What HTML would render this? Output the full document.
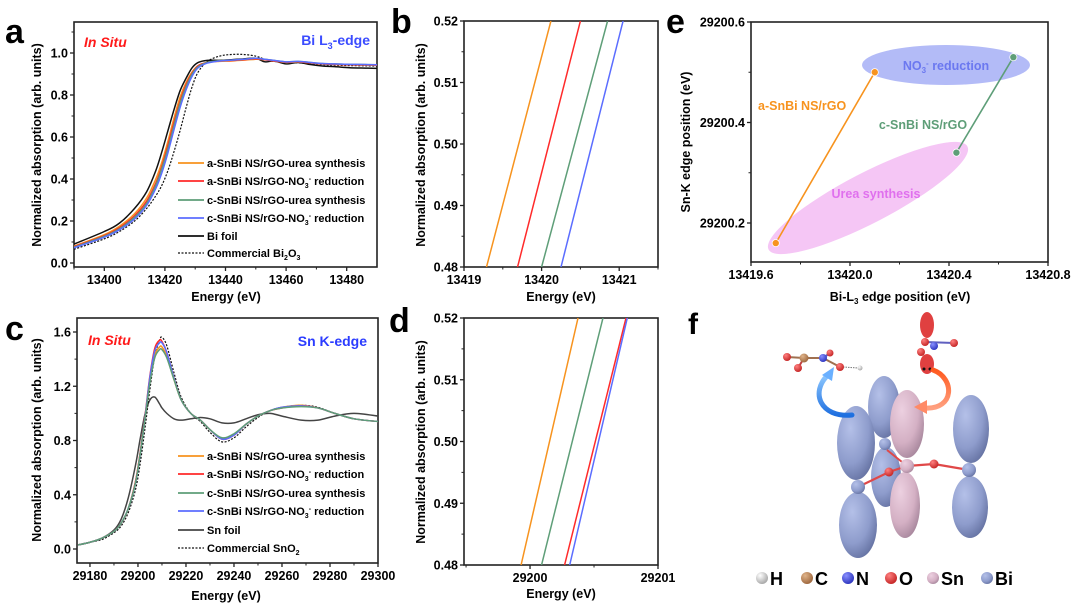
<!DOCTYPE html>
<html><head><meta charset="utf-8">
<style>
html,body{margin:0;padding:0;background:#fff;}
svg{display:block;font-family:"Liberation Sans",Arial,sans-serif;}
text{font-weight:bold;}
</style></head>
<body>
<svg id="fig" width="1080" height="612" viewBox="0 0 1080 612" xmlns="http://www.w3.org/2000/svg">
<defs>
<radialGradient id="gBi" cx="35%" cy="30%" r="80%"><stop offset="0" stop-color="#b4c0e8"/><stop offset="0.6" stop-color="#8e9ccc"/><stop offset="1" stop-color="#5f6c9c"/></radialGradient>
<radialGradient id="gSn" cx="35%" cy="30%" r="80%"><stop offset="0" stop-color="#ecd0e0"/><stop offset="0.6" stop-color="#d4b0c4"/><stop offset="1" stop-color="#a08096"/></radialGradient>
<radialGradient id="gO" cx="35%" cy="30%" r="70%"><stop offset="0" stop-color="#ff8080"/><stop offset="1" stop-color="#c62828"/></radialGradient>
<radialGradient id="gN" cx="35%" cy="30%" r="70%"><stop offset="0" stop-color="#8a90ff"/><stop offset="1" stop-color="#3038c0"/></radialGradient>
<radialGradient id="gC" cx="35%" cy="30%" r="70%"><stop offset="0" stop-color="#e0b48a"/><stop offset="1" stop-color="#a06a40"/></radialGradient>
<radialGradient id="gH" cx="35%" cy="30%" r="70%"><stop offset="0" stop-color="#ffffff"/><stop offset="1" stop-color="#aaaaaa"/></radialGradient>
<linearGradient id="gBlueArrow" x1="0" y1="1" x2="0" y2="0"><stop offset="0" stop-color="#1e6fe0"/><stop offset="1" stop-color="#8ec8ff"/></linearGradient>
<linearGradient id="gOrArrow" x1="0" y1="0" x2="0" y2="1"><stop offset="0" stop-color="#ff5a1f"/><stop offset="1" stop-color="#ffa080"/></linearGradient>
</defs>
</svg>
<script>
// ---------- Panel a data ----------
const energyA = [13390,13400,13405,13410,13414,13417,13419,13421,13423,13425,13427,13429,13431,13434,13438,13442,13446,13450,13453,13456,13460,13464,13468,13472,13476,13481,13486,13490];
const aUreaA  = [0.080,0.135,0.175,0.235,0.31,0.40,0.48,0.58,0.69,0.79,0.86,0.91,0.94,0.955,0.96,0.962,0.966,0.970,0.968,0.962,0.955,0.957,0.953,0.948,0.946,0.944,0.943,0.942];
const aNO3A   = [0.078,0.130,0.168,0.225,0.295,0.38,0.46,0.56,0.67,0.77,0.85,0.905,0.94,0.955,0.962,0.964,0.968,0.972,0.968,0.962,0.956,0.958,0.953,0.948,0.946,0.944,0.943,0.942];
const cUreaA  = [0.075,0.127,0.163,0.218,0.285,0.37,0.45,0.545,0.655,0.76,0.84,0.90,0.935,0.955,0.963,0.966,0.970,0.975,0.970,0.965,0.958,0.960,0.955,0.950,0.948,0.946,0.945,0.944];
const cNO3A   = [0.072,0.123,0.158,0.210,0.275,0.355,0.43,0.525,0.635,0.74,0.825,0.89,0.93,0.952,0.962,0.966,0.970,0.975,0.970,0.965,0.958,0.960,0.955,0.950,0.948,0.946,0.945,0.944];
const biFoil  = [0.090,0.150,0.190,0.260,0.34,0.44,0.53,0.63,0.73,0.82,0.88,0.93,0.955,0.965,0.965,0.968,0.972,0.975,0.958,0.962,0.948,0.955,0.945,0.938,0.935,0.930,0.928,0.927];
const bi2o3   = [0.065,0.115,0.150,0.200,0.26,0.32,0.37,0.44,0.53,0.63,0.74,0.84,0.91,0.96,0.985,0.993,0.993,0.985,0.970,0.960,0.955,0.953,0.950,0.945,0.942,0.940,0.939,0.938];
const ticksAx = [13400,13420,13440,13460,13480];
const ticksAy = [0.0,0.2,0.4,0.6,0.8,1.0];
// ---------- Panel b data ----------
const bY = [0.48,0.52];
const bOrange = [13419.29,13420.12];
const bRed    = [13419.69,13420.50];
const bGreen  = [13420.00,13420.85];
const bBlue   = [13420.25,13421.05];
const ticksBx = [13419,13420,13421];
const ticksBy = [0.48,0.49,0.50,0.51,0.52];
// ---------- Panel c data ----------
const energyC = [29175,29180,29185,29190,29193,29196,29199,29201,29203,29205,29207,29209,29210,29212,29215,29218,29222,29226,29230,29235,29240,29245,29250,29255,29260,29268,29275,29282,29290,29300];
const aUreaC = [0.03,0.05,0.08,0.13,0.19,0.30,0.50,0.72,0.98,1.25,1.43,1.49,1.49,1.42,1.25,1.10,1.00,0.95,0.88,0.81,0.84,0.92,0.98,1.02,1.045,1.06,1.04,1.00,0.96,0.94];
const aNO3C  = [0.03,0.05,0.08,0.13,0.19,0.30,0.50,0.72,0.99,1.28,1.48,1.54,1.53,1.45,1.26,1.10,1.00,0.95,0.88,0.81,0.84,0.92,0.98,1.02,1.04,1.055,1.04,1.00,0.96,0.94];
const cUreaC = [0.03,0.05,0.08,0.13,0.19,0.30,0.49,0.71,0.97,1.23,1.41,1.47,1.47,1.41,1.25,1.10,1.00,0.95,0.88,0.82,0.85,0.92,0.98,1.02,1.04,1.05,1.04,1.00,0.96,0.94];
const cNO3C  = [0.03,0.05,0.08,0.13,0.19,0.30,0.49,0.71,0.98,1.27,1.46,1.52,1.52,1.45,1.26,1.10,1.00,0.95,0.88,0.81,0.84,0.92,0.98,1.02,1.045,1.055,1.04,1.00,0.96,0.94];
const snFoil = [0.03,0.05,0.08,0.14,0.22,0.38,0.62,0.82,1.00,1.10,1.12,1.07,1.04,1.00,0.96,0.95,0.96,0.97,0.96,0.93,0.93,0.96,0.99,1.00,0.98,0.95,0.95,0.98,1.00,0.98];
const sno2   = [0.03,0.05,0.07,0.12,0.17,0.27,0.44,0.64,0.90,1.18,1.42,1.54,1.56,1.50,1.30,1.12,1.00,0.94,0.86,0.79,0.82,0.90,0.97,1.02,1.045,1.06,1.045,1.00,0.96,0.94];
const ticksCx = [29180,29200,29220,29240,29260,29280,29300];
const ticksCy = [0.0,0.4,0.8,1.2,1.6];
// ---------- Panel d data ----------
const dY = [0.48,0.52];
const dOrange = [29199.93,29200.375];
const dGreen  = [29200.09,29200.57];
const dRed    = [29200.27,29200.75];
const dBlue   = [29200.31,29200.76];
const ticksDx = [29200,29201];
const ticksDy = [0.48,0.49,0.50,0.51,0.52];
// ---------- Panel e data ----------
const eBiA = [13419.70,13420.10];
const eSnA = [29200.16,29200.50];
const eBiC = [13420.43,13420.66];
const eSnC = [29200.34,29200.53];
const ticksEx = [13419.6,13420.0,13420.4,13420.8];
const ticksEy = [29200.2,29200.4,29200.6];

const NS = "http://www.w3.org/2000/svg";
const svg = document.getElementById('fig');
function mk(tag, attrs, parent){
  const e = document.createElementNS(NS, tag);
  for (const k in attrs) e.setAttribute(k, attrs[k]);
  (parent||svg).appendChild(e);
  return e;
}
function scale(d0,d1,r0,r1){ return v => r0 + (v-d0)/(d1-d0)*(r1-r0); }
function smooth(pts){
  let d = "M"+pts[0][0].toFixed(2)+","+pts[0][1].toFixed(2);
  for (let i=0;i<pts.length-1;i++){
    const p0=pts[Math.max(0,i-1)], p1=pts[i], p2=pts[i+1], p3=pts[Math.min(pts.length-1,i+2)];
    const c1x=p1[0]+(p2[0]-p0[0])/6, c1y=p1[1]+(p2[1]-p0[1])/6;
    const c2x=p2[0]-(p3[0]-p1[0])/6, c2y=p2[1]-(p3[1]-p1[1])/6;
    d += " C"+c1x.toFixed(2)+","+c1y.toFixed(2)+" "+c2x.toFixed(2)+","+c2y.toFixed(2)+" "+p2[0].toFixed(2)+","+p2[1].toFixed(2);
  }
  return d;
}
function text(x,y,str,opts,name){
  const t = mk('text',Object.assign({x:x,y:y,'font-size':12,fill:'#000'},opts||{}));
  t.textContent = str;
  
  
  return t;
}
function axes(box, xs, ys, xt, yt, xfmt, yfmt, minorX, minorY, pname){
  const g = mk('g',{});
  
  
  const fr = mk('rect',{x:box.l,y:box.t,width:box.r-box.l,height:box.b-box.t,fill:'none',stroke:'#222','stroke-width':1.6},g);
  
  
  xt.forEach(v=>{
    const x=xs(v);
    mk('line',{x1:x,y1:box.b,x2:x,y2:box.b+4,stroke:'#222','stroke-width':1.3},g);
    text(x,box.b+17,xfmt(v),{'text-anchor':'middle','font-size':12.5},pname+'-x-tick-label');
  });
  minorX.forEach(v=>{const x=xs(v); mk('line',{x1:x,y1:box.b,x2:x,y2:box.b+2.5,stroke:'#222','stroke-width':1},g);});
  yt.forEach(v=>{
    const y=ys(v);
    mk('line',{x1:box.l,y1:y,x2:box.l-4,y2:y,stroke:'#222','stroke-width':1.3},g);
    text(box.l-6,y+4.5,yfmt(v),{'text-anchor':'end','font-size':12.5},pname+'-y-tick-label');
  });
  minorY.forEach(v=>{const y=ys(v); mk('line',{x1:box.l,y1:y,x2:box.l-2.5,y2:y,stroke:'#222','stroke-width':1},g);});
}
function clip(id, box){
  const cp = mk('clipPath',{id:id});
  mk('rect',{x:box.l,y:box.t,width:box.r-box.l,height:box.b-box.t},cp);
}
function rotLabel(x,y,str,name){
  return text(x,y,str,{'text-anchor':'middle','font-size':12.5,transform:'rotate(-90 '+x+' '+y+')'},name);
}

const COL = {orange:'#f7931e', red:'#ff2a2a', green:'#5e9e78', blue:'#5b6dff', black:'#111', gray:'#444'};

// ================= Panel a =================
const boxA = {l:74,t:22,r:377,b:267};
const xA = scale(13390,13490,boxA.l,boxA.r), yA = scale(0,1,263,53);
clip('clipA',boxA);
axes(boxA,xA,yA,ticksAx,ticksAy,v=>String(v),v=>v.toFixed(1),[13390,13410,13430,13450,13470],[0.1,0.3,0.5,0.7,0.9,1.1],'panel-a');
[[bi2o3,COL.black,'bi2o3-line',true],[biFoil,COL.black,'bi-foil-line',false],[aUreaA,COL.orange,'a-urea-line',false],[aNO3A,COL.red,'a-no3-line',false],[cUreaA,COL.green,'c-urea-line',false],[cNO3A,COL.blue,'c-no3-line',false]].forEach(s=>{
  const p = mk('path',{d:smooth(energyA.map((e,i)=>[xA(e),yA(s[0][i])])),fill:'none',stroke:s[1],'stroke-width':s[3]?1.2:1.5,'stroke-dasharray':s[3]?'2,1.5':'none','clip-path':'url(#clipA)'});
  
  
});
text(5,43,'a',{'font-size':34,'font-weight':'normal'},'panel-a-letter');
text(84,47,'In Situ',{'font-size':14,'font-style':'italic',fill:'#ff1a1a'},'panel-a-in-situ');
(function(){const t=text(370,45,'',{'font-size':14,'text-anchor':'end',fill:'#3b4cff'},'panel-a-edge-title');t.innerHTML='Bi L<tspan font-size="9" dy="4">3</tspan><tspan dy="-4">-edge</tspan>';})();
rotLabel(41,145,'Normalized absorption (arb. units)','panel-a-y-axis-title');
text(226,301,'Energy (eV)',{'text-anchor':'middle','font-size':12.5},'panel-a-x-axis-title');
function legend(x0,rows,pname){
  rows.forEach((r,i)=>{
    const y=r[3];
    const l=mk('line',{x1:x0,y1:y,x2:x0+26,y2:y,stroke:r[1],'stroke-width':r[2]?1.2:1.8,'stroke-dasharray':r[2]?'2,1.5':'none'});
    
    
    const t=text(x0+29,y+4,'',{'font-size':11},pname+'-legend-entry');
    t.innerHTML=r[0];
  });
}
const sub3='<tspan font-size="7" dy="3">3</tspan><tspan font-size="7" dy="-7">-</tspan><tspan dy="4"> reduction</tspan>';
legend(178,[
 ['a-SnBi NS/rGO-urea synthesis',COL.orange,false,163],
 ['a-SnBi NS/rGO-NO'+sub3,COL.red,false,181],
 ['c-SnBi NS/rGO-urea synthesis',COL.green,false,200],
 ['c-SnBi NS/rGO-NO'+sub3,COL.blue,false,218],
 ['Bi foil',COL.black,false,236],
 ['Commercial Bi<tspan font-size="7" dy="3">2</tspan><tspan dy="-3">O</tspan><tspan font-size="7" dy="3">3</tspan>',COL.black,true,253]
],'panel-a');

// ================= Panel b =================
const boxB = {l:464,t:21,r:658,b:267};
const xB = scale(13419,13421.5,boxB.l,boxB.r), yB = scale(0.48,0.52,267,21);
clip('clipB',boxB);
axes(boxB,xB,yB,ticksBx,ticksBy,v=>String(v),v=>v.toFixed(2),[13419.5,13420.5,13421.5],[0.485,0.495,0.505,0.515],'panel-b');
[[bOrange,COL.orange,'orange'],[bRed,COL.red,'red'],[bGreen,COL.green,'green'],[bBlue,COL.blue,'blue']].forEach(s=>{
  const l=mk('line',{x1:xB(s[0][0]),y1:yB(bY[0]),x2:xB(s[0][1]),y2:yB(bY[1]),stroke:s[1],'stroke-width':1.5,'clip-path':'url(#clipB)'});
  
  
});
text(391,33,'b',{'font-size':34,'font-weight':'normal'},'panel-b-letter');
rotLabel(425,145,'Normalized absorption (arb. units)','panel-b-y-axis-title');
text(561,301,'Energy (eV)',{'text-anchor':'middle','font-size':12.5},'panel-b-x-axis-title');

// ================= Panel c =================
const boxC = {l:77,t:318,r:378,b:563};
const xC = scale(29174.6,29300,boxC.l,boxC.r), yC = scale(0,1.6,549,332);
clip('clipC',boxC);
axes(boxC,xC,yC,ticksCx,ticksCy,v=>String(v),v=>v.toFixed(1),[29190,29210,29230,29250,29270,29290],[0.2,0.6,1.0,1.4],'panel-c');
[[snFoil,COL.gray,'sn-foil-line',false],[sno2,COL.black,'sno2-line',true],[aUreaC,COL.orange,'a-urea-line',false],[aNO3C,COL.red,'a-no3-line',false],[cNO3C,COL.blue,'c-no3-line',false],[cUreaC,COL.green,'c-urea-line',false]].forEach(s=>{
  const p = mk('path',{d:smooth(energyC.map((e,i)=>[xC(e),yC(s[0][i])])),fill:'none',stroke:s[1],'stroke-width':s[3]?1.2:1.5,'stroke-dasharray':s[3]?'2,1.5':'none','clip-path':'url(#clipC)'});
  
  
});
text(5,340,'c',{'font-size':34,'font-weight':'normal'},'panel-c-letter');
text(88,345,'In Situ',{'font-size':14,'font-style':'italic',fill:'#ff1a1a'},'panel-c-in-situ');
text(367,346,'Sn K-edge',{'font-size':14,'text-anchor':'end',fill:'#2b3cff'},'panel-c-edge-title');
rotLabel(41,440,'Normalized absorption (arb. units)','panel-c-y-axis-title');
text(226,600,'Energy (eV)',{'text-anchor':'middle','font-size':12.5},'panel-c-x-axis-title');
legend(178,[
 ['a-SnBi NS/rGO-urea synthesis',COL.orange,false,456],
 ['a-SnBi NS/rGO-NO'+sub3,COL.red,false,474],
 ['c-SnBi NS/rGO-urea synthesis',COL.green,false,493],
 ['c-SnBi NS/rGO-NO'+sub3,COL.blue,false,511],
 ['Sn foil',COL.gray,false,530],
 ['Commercial SnO<tspan font-size="7" dy="3">2</tspan>',COL.black,true,548]
],'panel-c');

// ================= Panel d =================
const boxD = {l:464,t:318,r:658,b:565};
const xD = scale(29199.484,29201,boxD.l,boxD.r), yD = scale(0.48,0.52,565,318);
clip('clipD',boxD);
axes(boxD,xD,yD,ticksDx,ticksDy,v=>String(v),v=>v.toFixed(2),[29199.5,29200.5],[0.485,0.495,0.505,0.515],'panel-d');
[[dOrange,COL.orange,'orange'],[dGreen,COL.green,'green'],[dRed,COL.red,'red'],[dBlue,COL.blue,'blue']].forEach(s=>{
  const l=mk('line',{x1:xD(s[0][0]),y1:yD(dY[0]),x2:xD(s[0][1]),y2:yD(dY[1]),stroke:s[1],'stroke-width':1.5,'clip-path':'url(#clipD)'});
  
  
});
text(389,332,'d',{'font-size':34,'font-weight':'normal'},'panel-d-letter');
rotLabel(425,442,'Normalized absorption (arb. units)','panel-d-y-axis-title');
text(561,598,'Energy (eV)',{'text-anchor':'middle','font-size':12.5},'panel-d-x-axis-title');

// ================= Panel e =================
const boxE = {l:751,t:22,r:1048,b:262};
const xE = scale(13419.6,13420.8,boxE.l,boxE.r), yE = scale(29200.2,29200.6,223,22);
const ell1 = mk('ellipse',{cx:946,cy:65,rx:84,ry:20,fill:'#b3bbf7'});


const ell2 = mk('ellipse',{cx:868,cy:198,rx:112,ry:25,fill:'#f5c6f5',transform:'rotate(-27.4 868 198)'});


axes(boxE,xE,yE,ticksEx,ticksEy,v=>v.toFixed(1),v=>v.toFixed(1),[13419.8,13420.2,13420.6],[29200.3,29200.5],'panel-e');
[[eBiA,eSnA,COL.orange,'a-snbi'],[eBiC,eSnC,'#5e9e78','c-snbi']].forEach(s=>{
  const l=mk('line',{x1:xE(s[0][0]),y1:yE(s[1][0]),x2:xE(s[0][1]),y2:yE(s[1][1]),stroke:s[2],'stroke-width':1.6});
  
  
  for(let i=0;i<2;i++){
    const c=mk('circle',{cx:xE(s[0][i]),cy:yE(s[1][i]),r:3.6,fill:s[2],stroke:'#fff','stroke-width':0.8});
    
    
  }
});
(function(){const t=text(946,70,'',{'font-size':12.5,'text-anchor':'middle',fill:'#6b78f0'},'no3-reduction-label');t.innerHTML='NO<tspan font-size="8" dy="3">3</tspan><tspan font-size="8" dy="-7">-</tspan><tspan dy="4"> reduction</tspan>';})();
text(876,198,'Urea synthesis',{'font-size':12.5,'text-anchor':'middle',fill:'#e070ee'},'urea-synthesis-label');
text(758,110,'a-SnBi NS/rGO',{'font-size':12.5,fill:'#f7931e'},'a-snbi-label');
text(923,129,'c-SnBi NS/rGO',{'font-size':12.5,'text-anchor':'middle',fill:'#5e9e78'},'c-snbi-label');
text(666,33,'e',{'font-size':34,'font-weight':'normal'},'panel-e-letter');
rotLabel(690,142,'Sn-K edge position (eV)','panel-e-y-axis-title');
(function(){const t=text(900,301,'',{'font-size':12.5,'text-anchor':'middle'},'panel-e-x-axis-title');t.innerHTML='Bi-L<tspan font-size="8" dy="3">3</tspan><tspan dy="-3"> edge position (eV)</tspan>';})();

// ================= Panel f (schematic) =================
text(688,334,'f',{'font-size':30,'font-weight':'normal'},'panel-f-letter');
function lobe(cx,cy,rx,ry,fill,name){
  const e=mk('ellipse',{cx:cx,cy:cy,rx:rx,ry:ry,fill:fill});
  
  
}
function atom(cx,cy,r,fill,name){
  const c=mk('circle',{cx:cx,cy:cy,r:r,fill:fill});
  
  
}
lobe(884,407,16,31,'url(#gBi)','back-bi-upper-lobe');
lobe(886,477,15,30,'url(#gBi)','back-bi-lower-lobe');
atom(885,444,6,'url(#gBi)','back-bi-atom');
lobe(856,443,19,37,'url(#gBi)','left-bi-upper-lobe');
lobe(858,525,19,33,'url(#gBi)','left-bi-lower-lobe');
lobe(907,424,17,34,'url(#gSn)','sn-upper-lobe');
lobe(905,505,15,33,'url(#gSn)','sn-lower-lobe');
lobe(971,429,18,34,'url(#gBi)','right-bi-upper-lobe');
lobe(970,507,18,31,'url(#gBi)','right-bi-lower-lobe');
const bonds=mk('polyline',{points:'858,487 889,472 907,466 934,464 969,470',fill:'none',stroke:'#e04848','stroke-width':2.2});


mk('line',{x1:907,y1:466,x2:887,y2:450,stroke:'#e04848','stroke-width':2});
atom(858,487,7,'url(#gBi)','left-bi-atom');
atom(889,472,4.5,'url(#gO)','bridge-o-atom-1');
atom(907,466,7,'url(#gSn)','sn-atom');
atom(934,464,4.5,'url(#gO)','bridge-o-atom-2');
atom(969,470,7,'url(#gBi)','right-bi-atom');
mk('polyline',{points:'787,357 804,358 823,358 840,367',fill:'none',stroke:'#a07050','stroke-width':2});
mk('line',{x1:804,y1:358,x2:798,y2:368,stroke:'#c04040','stroke-width':2});
mk('line',{x1:823,y1:358,x2:830,y2:353,stroke:'#6060c0','stroke-width':2});
mk('line',{x1:843,y1:367,x2:858,y2:368,stroke:'#777','stroke-width':1,'stroke-dasharray':'1.5,1'});
atom(787,357,4,'url(#gO)','molecule-o-1');
atom(798,368,4,'url(#gO)','molecule-o-2');
atom(804,358,4.5,'url(#gC)','molecule-c');
atom(823,358,4,'url(#gN)','molecule-n');
atom(830,353,3.5,'url(#gO)','molecule-o-3');
atom(840,367,4,'url(#gO)','molecule-o-4');
atom(860,368,2.5,'url(#gH)','molecule-h');
lobe(927,325,7,13,'#e04040','nitrate-upper-lobe');
lobe(927,364,7,10,'#e04040','nitrate-lower-lobe');
mk('line',{x1:925,y1:342,x2:954,y2:343,stroke:'#6060c0','stroke-width':2});
atom(934,346,4,'url(#gN)','nitrate-n');
atom(954,343,4,'url(#gO)','nitrate-o-1');
atom(925,342,4,'url(#gO)','nitrate-o-2');
atom(921,352,4,'url(#gO)','nitrate-o-3');
atom(924,369,1.5,'#111','lone-pair-1');
atom(930,369,1.5,'#111','lone-pair-2');
const ab=mk('path',{d:'M852,415 C820,418 810,392 828,375',fill:'none',stroke:'url(#gBlueArrow)','stroke-width':5,'stroke-linecap':'round'});


mk('polygon',{points:'822,375 834,367 832,381',fill:'#6ab0ff'});
const ao=mk('path',{d:'M933,370 C955,378 955,410 925,408',fill:'none',stroke:'url(#gOrArrow)','stroke-width':5,'stroke-linecap':'round'});


mk('polygon',{points:'914,407 927,400 927,414',fill:'#ff8a66'});
[['H','url(#gH)',762],['C','url(#gC)',807],['N','url(#gN)',848],['O','url(#gO)',891],['Sn','url(#gSn)',933],['Bi','url(#gBi)',987]].forEach(a=>{
  atom(a[2],578,6,a[1],'atom-legend-'+a[0].toLowerCase()+'-marker');
  text(a[2]+8,585,a[0],{'font-size':18},'atom-legend-'+a[0].toLowerCase()+'-label');
});
</script>
</body></html>
